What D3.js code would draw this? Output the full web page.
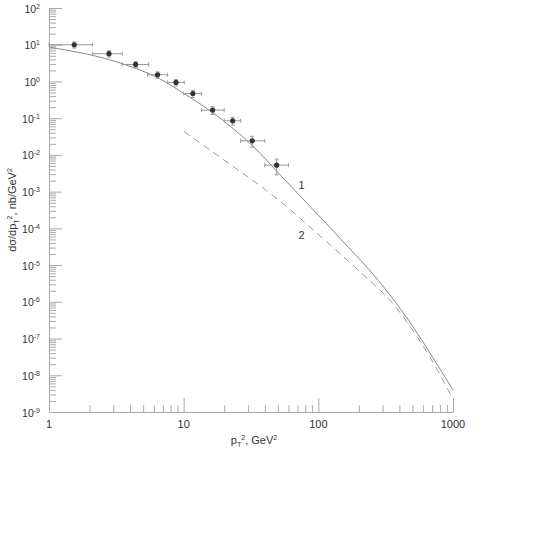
<!DOCTYPE html>
<html>
<head>
<meta charset="utf-8">
<script src="https://cdn.jsdelivr.net/npm/d3@7"></script>
<style>
  body { margin: 0; background: #fff; }
  svg { font-family: "Liberation Sans", Arial, sans-serif; }
</style>
</head>
<body>
<svg width="538" height="557"></svg>
<script>
"use strict";

// measured points
var ptCenter = [1.54, 2.79, 4.4, 6.4, 8.77, 11.7, 16.4, 23.1, 32.3, 49];
var ptLow    = [1.0, 2.11, 3.5, 5.4, 7.6, 10.0, 13.6, 20.0, 26.5, 40];
var ptHigh   = [2.1, 3.5, 5.5, 7.6, 10.1, 13.6, 20.0, 26.5, 40, 60];
var sigma    = [10, 5.7, 2.9, 1.52, 0.94, 0.47, 0.166, 0.085, 0.0242, 0.00527];
var sigmaErr = [1.9, 1.1, 0.55, 0.3, 0.18, 0.1, 0.04, 0.02, 0.008, 0.0024];

// curve 1 (solid)
var curve1X = [1, 3.56, 6.48, 10.2, 16.6, 32.9, 52.8, 73.0, 102.8, 168.7, 254, 340, 455, 674, 1000];
var curve1Y = [8.65, 2.98, 1.24, 0.454, 0.138, 0.0169, 2.70e-3, 7.69e-4, 2.06e-4, 2.94e-5, 5.75e-6, 1.54e-6, 3.64e-7, 4.06e-8, 3.97e-9];

// curve 2 (dashed)
var curve2X = [10.05, 22.1, 38.8, 53.7, 102.8, 204, 370, 455, 709, 1000];
var curve2Y = [0.0435, 5.55e-3, 1.27e-3, 4.96e-4, 6.25e-5, 6.53e-6, 7.73e-7, 2.83e-7, 2.30e-8, 2.26e-9];

var xTickValues = [1, 10, 100, 1000];
var xTickLabels = ["1", "10", "100", "1000"];
var yExponents = [2, 1, 0, -1, -2, -3, -4, -5, -6, -7, -8, -9];

var svg = d3.select("svg");

var x = d3.scaleLog().domain([1, 1000]).range([49, 453]);
var y = d3.scaleLog().domain([1e-9, 1e2]).range([412, 8]);

var axisColor = "#aaa";

// minor ticks
var xMinor = [], yMinor = [];
[1, 10, 100].forEach(function (d) {
  for (var k = 2; k <= 9; k++) xMinor.push(d * k);
});
yExponents.slice(1).forEach(function (e) {
  for (var k = 2; k <= 9; k++) yMinor.push(Math.pow(10, e) * k);
});

var xAxisG = svg.append("g").attr("transform", "translate(0,412)");
xAxisG.append("g")
  .call(d3.axisBottom(x).tickValues(xMinor).tickSize(-7).tickFormat("").tickSizeOuter(0));
xAxisG.append("g")
  .call(d3.axisBottom(x).tickValues(xTickValues.slice(1)).tickSize(-14).tickFormat("").tickSizeOuter(0));

var yAxisG = svg.append("g").attr("transform", "translate(49,0)");
yAxisG.append("g")
  .call(d3.axisLeft(y).tickValues(yMinor).tickSize(-7).tickFormat("").tickSizeOuter(0));
yAxisG.append("g")
  .call(d3.axisLeft(y).tickValues(yExponents.slice(0, -1).map(function (e) { return Math.pow(10, e); }))
    .tickSize(-13).tickFormat("").tickSizeOuter(0));

svg.selectAll(".domain").attr("stroke", axisColor);
svg.selectAll(".tick line").attr("stroke", axisColor);

// x tick labels
svg.append("g").selectAll("text")
  .data(xTickValues)
  .enter().append("text")
  .attr("x", function (d) { return x(d); })
  .attr("y", 428)
  .attr("text-anchor", "middle")
  .attr("font-size", 11)
  .attr("fill", "#333")
  .text(function (d, i) { return xTickLabels[i]; });

// y tick labels 10^n
var yLab = svg.append("g").selectAll("text")
  .data(yExponents)
  .enter().append("text")
  .attr("x", 40)
  .attr("y", function (d) { return y(Math.pow(10, d)) + 4.5; })
  .attr("text-anchor", "end")
  .attr("fill", "#333");
yLab.append("tspan").attr("font-size", 10.5).text("10");
yLab.append("tspan").attr("font-size", 7).attr("dy", -4).text(function (d) { return d; });

// axis titles
var xt = svg.append("text")
  .attr("x", 254)
  .attr("y", 444)
  .attr("text-anchor", "middle")
  .attr("font-size", 11)
  .attr("fill", "#333");
xt.append("tspan").text("p");
xt.append("tspan").attr("font-size", 7).attr("dy", 3).text("T");
xt.append("tspan").attr("font-size", 7).attr("dy", -7).text("2");
xt.append("tspan").attr("dy", 4).text(", GeV");
xt.append("tspan").attr("font-size", 7).attr("dy", -4).text("2");

var yt = svg.append("text")
  .attr("transform", "translate(16,210) rotate(-90)")
  .attr("text-anchor", "middle")
  .attr("font-size", 11)
  .attr("fill", "#333");
yt.append("tspan").text("d\u03c3/dp");
yt.append("tspan").attr("font-size", 7).attr("dy", 3).text("T");
yt.append("tspan").attr("font-size", 7).attr("dy", -7).text("2");
yt.append("tspan").attr("dy", 4).text(", nb/GeV");
yt.append("tspan").attr("font-size", 7).attr("dy", -4).text("2");

// curves
var line = d3.line()
  .x(function (d) { return x(d[0]); })
  .y(function (d) { return y(d[1]); })
  .curve(d3.curveMonotoneX);

svg.append("path")
  .datum(d3.zip(curve1X, curve1Y))
  .attr("d", line)
  .attr("fill", "none")
  .attr("stroke", "#888")
  .attr("stroke-width", 1);

svg.append("path")
  .datum(d3.zip(curve2X, curve2Y))
  .attr("d", line)
  .attr("fill", "none")
  .attr("stroke", "#999")
  .attr("stroke-width", 1)
  .attr("stroke-dasharray", "7,5");

// curve labels
svg.append("text").attr("x", 301.5).attr("y", 189).attr("text-anchor", "middle")
  .attr("font-size", 11).attr("fill", "#333").text("1");
svg.append("text").attr("x", 301.5).attr("y", 239).attr("text-anchor", "middle")
  .attr("font-size", 11).attr("fill", "#333").text("2");

// data points with error bars
var pts = d3.range(ptCenter.length).map(function (i) {
  return { x: ptCenter[i], lo: ptLow[i], hi: ptHigh[i], y: sigma[i], e: sigmaErr[i] };
});

var errColor = "#999";
var pg = svg.append("g").selectAll("g")
  .data(pts)
  .enter().append("g");

pg.append("line")
  .attr("x1", function (d) { return x(d.lo); })
  .attr("x2", function (d) { return x(d.hi); })
  .attr("y1", function (d) { return y(d.y); })
  .attr("y2", function (d) { return y(d.y); })
  .attr("stroke", errColor);
pg.append("line")
  .attr("x1", function (d) { return x(d.lo); })
  .attr("x2", function (d) { return x(d.lo); })
  .attr("y1", function (d) { return y(d.y) - 2; })
  .attr("y2", function (d) { return y(d.y) + 2; })
  .attr("stroke", errColor);
pg.append("line")
  .attr("x1", function (d) { return x(d.hi); })
  .attr("x2", function (d) { return x(d.hi); })
  .attr("y1", function (d) { return y(d.y) - 2; })
  .attr("y2", function (d) { return y(d.y) + 2; })
  .attr("stroke", errColor);
pg.append("line")
  .attr("x1", function (d) { return x(d.x); })
  .attr("x2", function (d) { return x(d.x); })
  .attr("y1", function (d) { return y(d.y + d.e); })
  .attr("y2", function (d) { return y(d.y - d.e); })
  .attr("stroke", errColor);
pg.append("line")
  .attr("x1", function (d) { return x(d.x) - 2; })
  .attr("x2", function (d) { return x(d.x) + 2; })
  .attr("y1", function (d) { return y(d.y + d.e); })
  .attr("y2", function (d) { return y(d.y + d.e); })
  .attr("stroke", errColor);
pg.append("line")
  .attr("x1", function (d) { return x(d.x) - 2; })
  .attr("x2", function (d) { return x(d.x) + 2; })
  .attr("y1", function (d) { return y(d.y - d.e); })
  .attr("y2", function (d) { return y(d.y - d.e); })
  .attr("stroke", errColor);
pg.append("circle")
  .attr("cx", function (d) { return x(d.x); })
  .attr("cy", function (d) { return y(d.y); })
  .attr("r", 2.6)
  .attr("fill", "#333");
</script>
</body>
</html>
